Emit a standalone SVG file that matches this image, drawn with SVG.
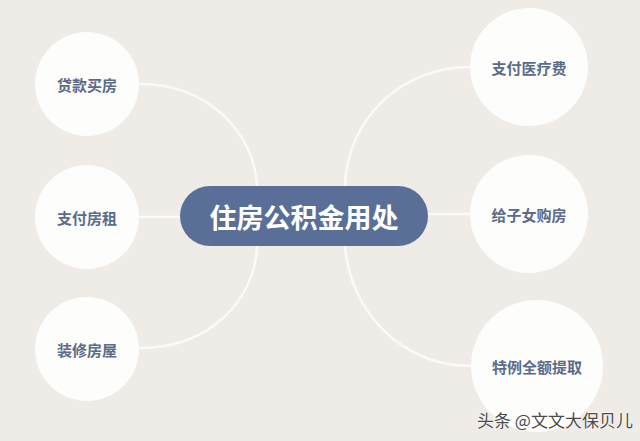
<svg xmlns="http://www.w3.org/2000/svg" width="640" height="441" viewBox="0 0 640 441">
<style>
.bg{fill:#efebe7}
.circ{fill:#fdfdfc}
.lbl{font-family:"Noto Sans CJK SC","Noto Sans",sans-serif;font-size:15px;font-weight:bold;fill:#5b6b8a;text-anchor:middle;dominant-baseline:central}
.conn{fill:none;stroke:#fbfaf8;stroke-width:2.5;stroke-linecap:round}
.hub{fill:#5a6f98}
.hubtxt{font-family:"Noto Sans CJK SC","Noto Sans",sans-serif;font-size:27px;font-weight:bold;fill:#ffffff;text-anchor:middle;dominant-baseline:central}
.wm{font-family:"Noto Sans CJK SC","Noto Sans",sans-serif;font-size:17px;fill:#4a4a4a;stroke:#ffffff;stroke-width:1;paint-order:stroke}
</style>
<rect class="bg" x="0" y="0" width="640" height="441"/>
<g id="connectors">
<path class="conn" d="M140,84 C210,84 255,135 257,186"/>
<path class="conn" d="M140,217 L180,217"/>
<path class="conn" d="M140,348 C210,348 255,300 257,246"/>
<path class="conn" d="M345,186 C347,120 400,67 470,67"/>
<path class="conn" d="M428,214 L470,214"/>
<path class="conn" d="M345,246 C350,310 400,366 471,366"/>
</g>
<g id="n1"><circle class="circ" cx="87" cy="84" r="52"/><text class="lbl" x="87" y="84">贷款买房</text></g>
<g id="n2"><circle class="circ" cx="87" cy="217" r="52"/><text class="lbl" x="87" y="217">支付房租</text></g>
<g id="n3"><circle class="circ" cx="87" cy="349" r="52"/><text class="lbl" x="87" y="349">装修房屋</text></g>
<g id="n4"><circle class="circ" cx="529" cy="67" r="59"/><text class="lbl" x="529" y="67">支付医疗费</text></g>
<g id="n5"><circle class="circ" cx="529" cy="214" r="59"/><text class="lbl" x="529" y="214">给子女购房</text></g>
<g id="n6"><circle class="circ" cx="537" cy="366" r="66"/><text class="lbl" x="537" y="366">特例全额提取</text></g>
<g id="hub"><rect class="hub" x="180" y="186" width="248" height="60" rx="30"/><text class="hubtxt" x="304" y="216">住房公积金用处</text></g>
<text class="wm" x="477" y="427">头条 @文文大保贝儿</text>
</svg>
